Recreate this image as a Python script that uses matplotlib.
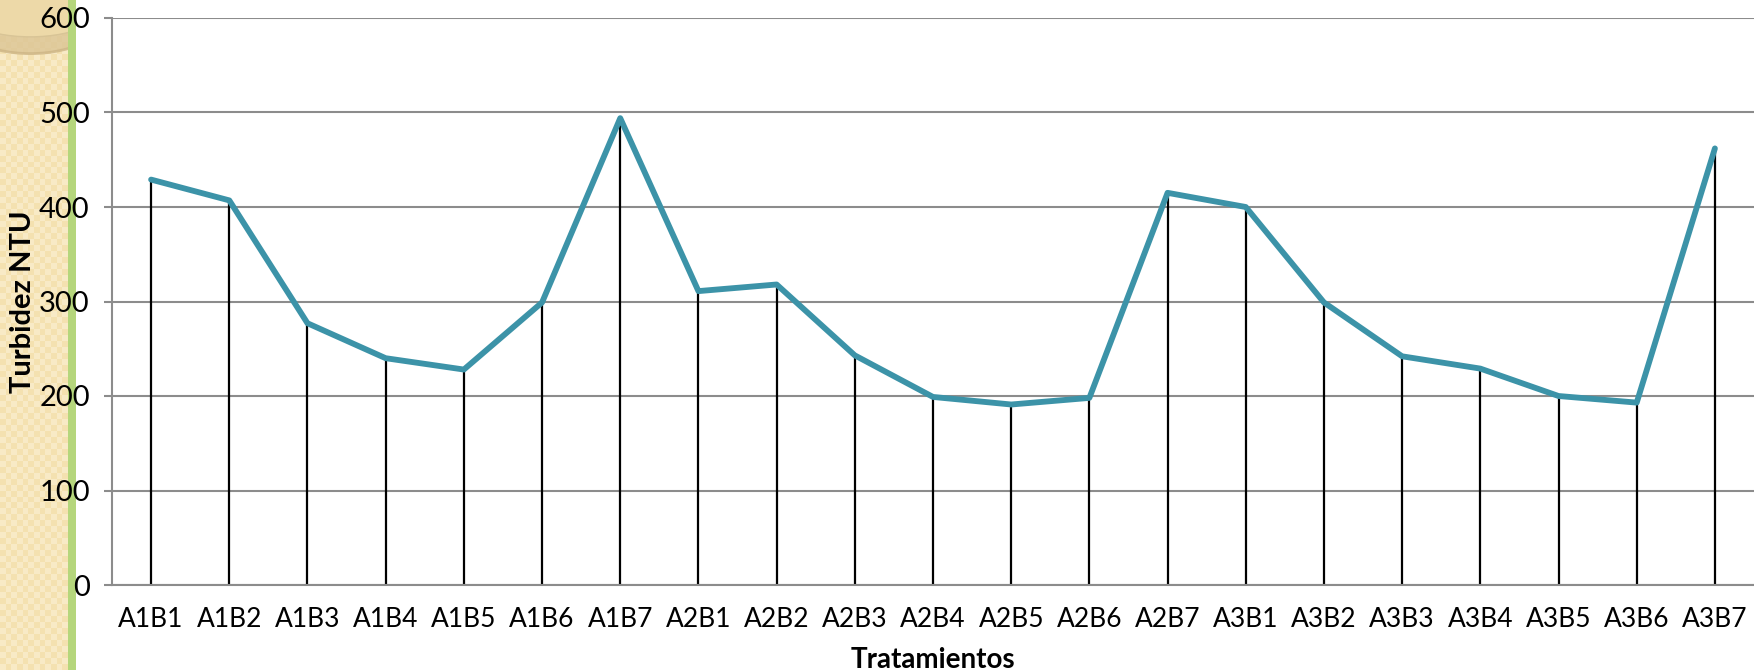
import numpy as np
import matplotlib
matplotlib.use('Agg')
import matplotlib.pyplot as plt
from matplotlib.patches import Ellipse, Rectangle

plt.rcParams['font.family'] = ['Lato', 'DejaVu Sans']

# turbidity per treatment
tratamientos = ['A1B1', 'A1B2', 'A1B3', 'A1B4', 'A1B5', 'A1B6', 'A1B7',
                'A2B1', 'A2B2', 'A2B3', 'A2B4', 'A2B5', 'A2B6', 'A2B7',
                'A3B1', 'A3B2', 'A3B3', 'A3B4', 'A3B5', 'A3B6', 'A3B7']
turbidez = [429, 407, 277, 240, 228, 299, 494,
            311, 318, 243, 199, 191, 198, 415,
            400, 299, 242, 229, 200, 193, 462]
y_ticks = [0, 100, 200, 300, 400, 500, 600]

W, H = 1754, 670
fig = plt.figure(figsize=(W / 100, H / 100), dpi=100)

# beige side panel with a faint check pattern and green edge
side = fig.add_axes([0, 0, 76 / W, 1], zorder=0)
n_cols, n_rows = 68 // 6 + 1, H // 6 + 1
check = np.indices((n_rows, n_cols)).sum(axis=0) % 2
side.imshow(check, cmap=matplotlib.colors.ListedColormap(['#F4E1B0', '#F8EAC6']),
            aspect='auto', interpolation='nearest', extent=[0, 68 / 76, 0, 1])
side.set_xlim(0, 1)
side.set_ylim(0, 1)
side.set_axis_off()
side.add_patch(Ellipse((0.4, 0.99), 2.2, 0.14, facecolor='#DCC595',
                       edgecolor='#CDB585', lw=2, alpha=0.8))
side.add_patch(Ellipse((0.4, 1.005), 2.2, 0.12, facecolor='#EDD9A8',
                       edgecolor='#D8C496', lw=1))
side.add_patch(Rectangle((68 / 76, 0), 8 / 76, 1, facecolor='#B5D67C',
                         edgecolor='none', zorder=5))

ax = fig.add_axes([112 / W, 1 - 585 / H, 1 - 112 / W, (585 - 18) / H], zorder=2)
ax.patch.set_alpha(0)
x = np.arange(len(tratamientos))

ax.vlines(x, 0, turbidez, color='black', lw=1.6, zorder=2)
ax.plot(x, turbidez, color='#3C93A8', lw=4.2, solid_joinstyle='round',
        solid_capstyle='round', zorder=3)

ax.set_xlim(-0.5, len(tratamientos) - 0.5)
ax.set_ylim(0, 600)
ax.set_yticks(y_ticks)
ax.set_xticks(x)
ax.set_xticklabels(tratamientos)
ax.yaxis.grid(True, color='#8C8C8C', lw=1.5)
ax.set_axisbelow(True)

for s in ['top', 'right']:
    ax.spines[s].set_visible(False)
for s in ['left', 'bottom']:
    ax.spines[s].set_color('#8C8C8C')
    ax.spines[s].set_linewidth(1.5)

ax.tick_params(axis='y', length=6, width=1.5, color='#8C8C8C', labelsize=21, pad=10)
ax.tick_params(axis='x', length=0, labelsize=19, pad=16)

ax.set_xlabel('Tratamientos', fontsize=20, fontweight='bold', labelpad=11)
ax.set_ylabel('Turbidez NTU', fontsize=21, fontweight='bold')
ax.yaxis.set_label_coords(-76 / (W - 112), 0.5)

fig.savefig('out.png', dpi=100)
